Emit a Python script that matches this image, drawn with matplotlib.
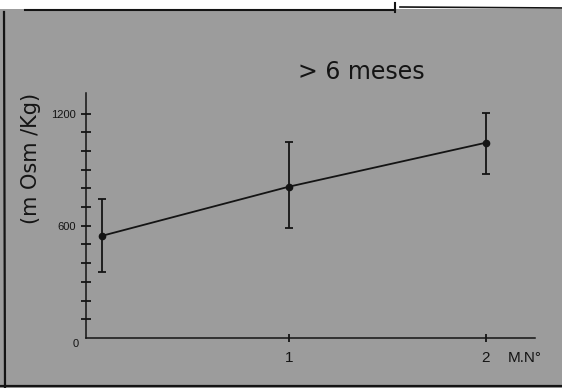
import matplotlib.pyplot as plt
from matplotlib.lines import Line2D
from matplotlib.patches import Rectangle

# data
months = [0.05, 1, 2]
osm_mean = [546, 809, 1044]
osm_low = [354, 589, 878]
osm_high = [745, 1050, 1205]
y_ticks = list(range(100, 1300, 100))
y_labels = {600: "600", 1200: "1200"}
x_ticks = [1, 2]

bg = "#9c9c9c"
ink = "#141414"
W, H = 562, 388

fig = plt.figure(figsize=(W / 100, H / 100), dpi=100, facecolor=bg)
plt.rcParams["font.family"] = ["Liberation Sans", "DejaVu Sans"]

# axes placed in pixel terms of the scan
left, right, bottom, top = 86, 535, 338, 93
ax = fig.add_axes([left / W, (H - bottom) / H, (right - left) / W, (bottom - top) / H])
ax.set_facecolor(bg)
ax.set_xlim(-0.03, 2.25)
ax.set_ylim(0, 1310)

for s in ["top", "right"]:
    ax.spines[s].set_visible(False)
for s in ["left", "bottom"]:
    ax.spines[s].set_color(ink)
    ax.spines[s].set_linewidth(1.1)

ax.set_yticks(y_ticks)
ax.set_yticklabels([y_labels.get(v, "") for v in y_ticks], fontsize=8)
ax.tick_params(axis="y", direction="inout", length=7, width=1.3, colors=ink, pad=4)
ax.set_xticks(x_ticks)
ax.set_xticklabels([str(v) for v in x_ticks], fontsize=11)
ax.tick_params(axis="x", direction="inout", length=6, width=1.3, colors=ink, pad=6)

# mean line and error bars
yerr = [[m - lo for m, lo in zip(osm_mean, osm_low)],
        [hi - m for m, hi in zip(osm_mean, osm_high)]]
ax.plot(months, osm_mean, color=ink, lw=1.3)
ax.errorbar(months, osm_mean, yerr=yerr, fmt="o", color=ink, ms=4.5,
            elinewidth=1.3, capsize=3, capthick=1.3)

ax.annotate("0", xy=(0, 0), xycoords="axes fraction", xytext=(-10, -6),
            textcoords="offset pixels", ha="center", va="center", fontsize=8, color=ink)
ax.annotate("M.N°", xy=(1, 0), xycoords="axes fraction", xytext=(-10, -20),
            textcoords="offset pixels", ha="center", va="center", fontsize=11, color=ink)

fig.text(361 / W, 1 - 72 / H, "> 6 meses", ha="center", va="center", fontsize=17,
         color=ink, family="DejaVu Sans")
fig.text(31 / W, 1 - 158 / H, "(m Osm /Kg)", ha="center", va="center", rotation=90,
         fontsize=15, color=ink, family="DejaVu Sans")

# scan edges
fig.add_artist(Rectangle((0, 1 - 9 / H), 1, 9 / H, transform=fig.transFigure,
                         facecolor="white", edgecolor="none"))
fig.add_artist(Line2D([25 / W, 395 / W], [1 - 10 / H, 1 - 10 / H], transform=fig.transFigure, color=ink, lw=1.5))
fig.add_artist(Line2D([400 / W, 1], [1 - 7 / H, 1 - 8 / H], transform=fig.transFigure, color=ink, lw=1.2))
fig.add_artist(Line2D([395 / W, 395 / W], [1 - 3 / H, 1 - 12 / H], transform=fig.transFigure, color=ink, lw=1.5))
fig.add_artist(Line2D([4 / W, 5 / W], [1 - 12 / H, 0], transform=fig.transFigure, color=ink, lw=1.6))
fig.add_artist(Line2D([0, 1], [2 / H, 2 / H], transform=fig.transFigure, color=ink, lw=1.6))

fig.savefig("out.png", dpi=100, facecolor=bg)
plt.close(fig)
